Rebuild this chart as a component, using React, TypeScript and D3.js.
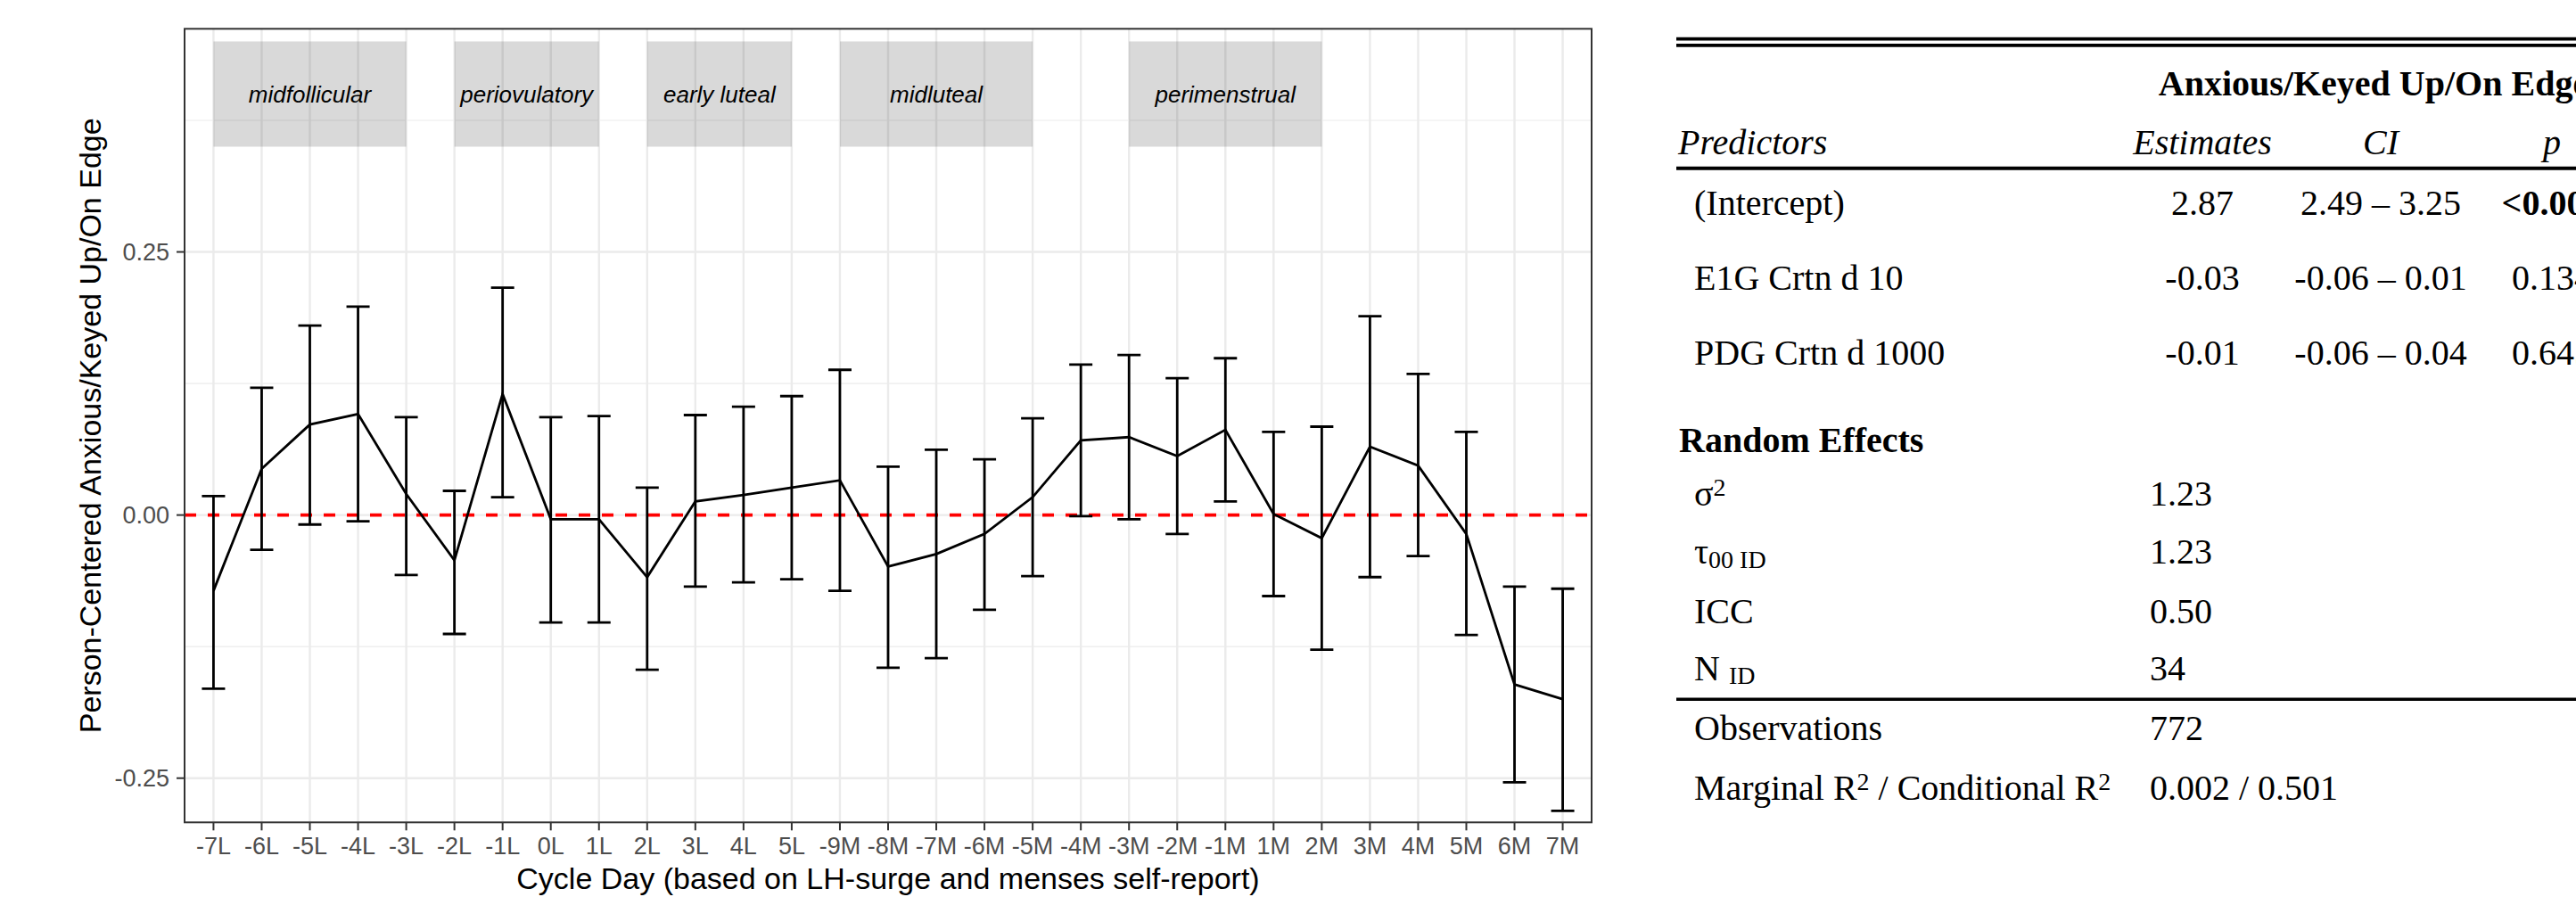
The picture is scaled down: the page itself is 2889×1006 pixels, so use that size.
import { useEffect, useRef } from "react";
import * as d3 from "d3";

// cycle days on the x axis
const days = [
  "-7L", "-6L", "-5L", "-4L", "-3L", "-2L", "-1L", "0L", "1L", "2L", "3L", "4L", "5L",
  "-9M", "-8M", "-7M", "-6M", "-5M", "-4M", "-3M", "-2M", "-1M",
  "1M", "2M", "3M", "4M", "5M", "6M", "7M",
];
// person-centered mean and CI per day
const meanValues = [
  -0.072, 0.044, 0.086, 0.096, 0.02, -0.043, 0.115, -0.004, -0.004, -0.059, 0.013, 0.019, 0.026,
  0.033, -0.049, -0.037, -0.018, 0.017, 0.071, 0.074, 0.056, 0.081,
  0.001, -0.022, 0.065, 0.047, -0.018, -0.161, -0.175,
];
const lowerValues = [
  -0.165, -0.033, -0.009, -0.006, -0.057, -0.113, 0.017, -0.102, -0.102, -0.147, -0.068, -0.064, -0.061,
  -0.072, -0.145, -0.136, -0.09, -0.058, -0.001, -0.004, -0.018, 0.013,
  -0.077, -0.128, -0.059, -0.039, -0.114, -0.254, -0.281,
];
const upperValues = [
  0.018, 0.121, 0.18, 0.198, 0.093, 0.023, 0.216, 0.093, 0.094, 0.026, 0.095, 0.103, 0.113,
  0.138, 0.046, 0.062, 0.053, 0.092, 0.143, 0.152, 0.13, 0.149,
  0.079, 0.084, 0.189, 0.134, 0.079, -0.068, -0.07,
];

// phase bands
const phaseNames = ["midfollicular", "periovulatory", "early luteal", "midluteal", "perimenstrual"];
const phaseStart = ["-7L", "-2L", "2L", "-9M", "-3M"];
const phaseEnd = ["-3L", "1L", "5L", "-5M", "2M"];
const phaseBottom = 0.35;
const phaseTop = 0.45;
const phaseLabelY = 0.4;

const yTicks = [-0.25, 0, 0.25];
const yMinorTicks = [-0.125, 0.125, 0.375];
const yDomain = [-0.292, 0.462];

// model table
const predictors = ["(Intercept)", "E1G Crtn d 10", "PDG Crtn d 1000"];
const estimates = ["2.87", "-0.03", "-0.01"];
const ciTexts = ["2.49 – 3.25", "-0.06 – 0.01", "-0.06 – 0.04"];
const pTexts = ["<0.001", "0.134", "0.645"];
const pBold = [true, false, false];
const randomValues = ["1.23", "1.23", "0.50", "34"];
const observations = "772";
const r2Text = "0.002 / 0.501";

const W = 2889;
const H = 1006;

export default function App() {
  const svgRef = useRef<SVGSVGElement>(null);

  useEffect(() => {
    if (!svgRef.current) return;
    const svg = d3.select(svgRef.current);
    svg.selectAll("*").remove();

    const left = 207, right = 1785, top = 32.3, bottom = 922.3;
    const sans = "'Liberation Sans', Arial, sans-serif";
    const serif = "'Liberation Serif', 'Times New Roman', serif";

    const x = d3.scalePoint<string>().domain(days).range([left, right]).padding(0.6);
    const y = d3.scaleLinear().domain(yDomain).range([bottom, top]);

    const g = svg.append("g");

    // grid
    g.selectAll("line.minor")
      .data(yMinorTicks)
      .join("line")
      .attr("x1", left).attr("x2", right)
      .attr("y1", (d) => y(d)).attr("y2", (d) => y(d))
      .attr("stroke", "#ebebeb").attr("stroke-width", 1.2);
    g.selectAll("line.hmaj")
      .data(yTicks)
      .join("line")
      .attr("x1", left).attr("x2", right)
      .attr("y1", (d) => y(d)).attr("y2", (d) => y(d))
      .attr("stroke", "#ebebeb").attr("stroke-width", 2.4);
    g.selectAll("line.vmaj")
      .data(days)
      .join("line")
      .attr("x1", (d) => x(d)!).attr("x2", (d) => x(d)!)
      .attr("y1", top).attr("y2", bottom)
      .attr("stroke", "#ebebeb").attr("stroke-width", 2.4);

    // phase boxes
    phaseNames.forEach((name, i) => {
      const x0 = x(phaseStart[i])!;
      const x1 = x(phaseEnd[i])!;
      g.append("rect")
        .attr("x", x0).attr("width", x1 - x0)
        .attr("y", y(phaseTop)).attr("height", y(phaseBottom) - y(phaseTop))
        .attr("fill", "#000").attr("fill-opacity", 0.15);
      g.append("text")
        .attr("x", (x0 + x1) / 2).attr("y", y(phaseLabelY)).attr("dy", "0.35em")
        .attr("text-anchor", "middle")
        .style("font-family", sans).style("font-style", "italic")
        .style("font-size", "26px").style("fill", "#000")
        .text(name);
    });

    // zero reference line
    g.append("line")
      .attr("x1", left).attr("x2", right)
      .attr("y1", y(0)).attr("y2", y(0))
      .attr("stroke", "#ff0000").attr("stroke-width", 3.6)
      .attr("stroke-dasharray", "13 13");

    // error bars
    const cap = 13;
    days.forEach((d, i) => {
      const cx = x(d)!;
      const path = `M${cx - cap},${y(upperValues[i])}H${cx + cap}M${cx},${y(upperValues[i])}V${y(lowerValues[i])}M${cx - cap},${y(lowerValues[i])}H${cx + cap}`;
      g.append("path").attr("d", path).attr("fill", "none")
        .attr("stroke", "#000").attr("stroke-width", 2.8);
    });

    // mean line
    const line = d3.line<number>().x((_, i) => x(days[i])!).y((v) => y(v));
    g.append("path").attr("d", line(meanValues)!).attr("fill", "none")
      .attr("stroke", "#000").attr("stroke-width", 2.8);

    // panel border
    g.append("rect")
      .attr("x", left).attr("y", top)
      .attr("width", right - left).attr("height", bottom - top)
      .attr("fill", "none").attr("stroke", "#333").attr("stroke-width", 2);

    // y axis
    yTicks.forEach((t) => {
      g.append("line").attr("x1", left - 9).attr("x2", left)
        .attr("y1", y(t)).attr("y2", y(t))
        .attr("stroke", "#333").attr("stroke-width", 2);
      g.append("text").attr("x", left - 17).attr("y", y(t)).attr("dy", "0.35em")
        .attr("text-anchor", "end")
        .style("font-family", sans).style("font-size", "27px").style("fill", "#4d4d4d")
        .text(t.toFixed(2));
    });

    // x axis
    days.forEach((d) => {
      g.append("line").attr("x1", x(d)!).attr("x2", x(d)!)
        .attr("y1", bottom).attr("y2", bottom + 9)
        .attr("stroke", "#333").attr("stroke-width", 2);
      g.append("text").attr("x", x(d)!).attr("y", bottom + 35.5)
        .attr("text-anchor", "middle")
        .style("font-family", sans).style("font-size", "27px").style("fill", "#4d4d4d")
        .text(d);
    });

    g.append("text")
      .attr("x", (left + right) / 2).attr("y", 997)
      .attr("text-anchor", "middle")
      .style("font-family", sans).style("font-size", "34px").style("fill", "#000")
      .text("Cycle Day (based on LH-surge and menses self-report)");
    g.append("text")
      .attr("transform", `translate(113,${(top + bottom) / 2}) rotate(-90)`)
      .attr("text-anchor", "middle")
      .style("font-family", sans).style("font-size", "34px").style("fill", "#000")
      .text("Person-Centered Anxious/Keyed Up/On Edge");

    // ---- table ----
    const t = svg.append("g").style("font-family", serif).style("fill", "#000");
    const tx0 = 1880;
    const rule = (yy: number, w: number) =>
      t.append("line").attr("x1", tx0).attr("x2", W + 10)
        .attr("y1", yy).attr("y2", yy).attr("stroke", "#000").attr("stroke-width", w);
    rule(43.7, 3.7);
    rule(50.9, 3.7);
    rule(188.7, 4);
    rule(784.3, 3.4);

    const txt = (xx: number, yy: number, s: string, anchor = "start") =>
      t.append("text").attr("x", xx).attr("y", yy).attr("text-anchor", anchor)
        .style("font-size", "40px").text(s);

    txt(2662, 107, "Anxious/Keyed Up/On Edge", "middle").style("font-weight", "700");
    txt(1882, 173.3, "Predictors").style("font-style", "italic");
    txt(2470, 173.3, "Estimates", "middle").style("font-style", "italic");
    txt(2670, 173.3, "CI", "middle").style("font-style", "italic");
    txt(2862, 173.3, "p", "middle").style("font-style", "italic");

    const rowY = [241, 325, 409.3];
    predictors.forEach((p, i) => {
      txt(1900, rowY[i], p);
      txt(2470, rowY[i], estimates[i], "middle");
      txt(2670, rowY[i], ciTexts[i], "middle");
      txt(2862, rowY[i], pTexts[i], "middle").style("font-weight", pBold[i] ? "700" : "400");
    });

    txt(1883, 506.7, "Random Effects").style("font-weight", "700");

    const reY = [567.3, 631.7, 699, 762.7];
    // sigma squared
    const s2 = txt(1900, reY[0], "σ");
    s2.append("tspan").attr("dy", -11).style("font-size", "28px").text("2");
    // tau00 ID
    const tau = txt(1900, reY[1], "τ");
    tau.append("tspan").attr("dy", 5).style("font-size", "28px").text("00 ID");
    txt(1900, reY[2], "ICC");
    const nid = txt(1900, reY[3], "N ");
    nid.append("tspan").attr("dy", 4).style("font-size", "28px").text("ID");
    randomValues.forEach((v, i) => txt(2411, reY[i], v));

    txt(1900, 830, "Observations");
    txt(2411, 830, observations);
    const r2 = txt(1900, 896.7, "Marginal R");
    r2.append("tspan").attr("dy", -11).style("font-size", "28px").text("2");
    r2.append("tspan").attr("dy", 11).text(" / Conditional R");
    r2.append("tspan").attr("dy", -11).style("font-size", "28px").text("2");
    txt(2411, 896.7, r2Text);
  }, []);

  return (
    <svg
      ref={svgRef}
      width={W}
      height={H}
      viewBox={`0 0 ${W} ${H}`}
      style={{ position: "absolute", left: 0, top: 0, background: "#fff", overflow: "hidden" }}
    />
  );
}
